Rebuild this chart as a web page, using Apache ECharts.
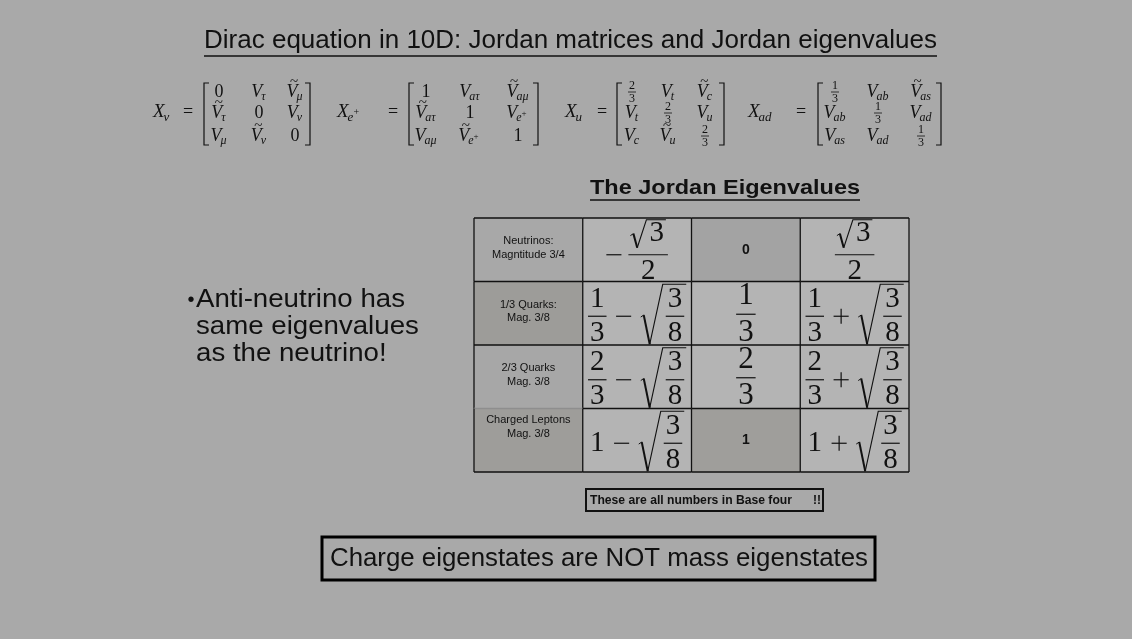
<!DOCTYPE html>
<html lang="en">
<head>
<meta charset="UTF-8">
<title>Jordan eigenvalues</title>
<script src="https://cdn.jsdelivr.net/npm/echarts@6.0.0/dist/echarts.min.js"></script>
<style>html,body{margin:0;padding:0;background:#a9a9a9}</style>
</head>
<body>
<div id="main" style="width:1132px;height:639px"></div>
<script>
// table contents
const rowNames = ['Neutrinos:\nMagntitude 3/4', '1/3 Quarks:\nMag. 3/8', '2/3 Quarks\nMag. 3/8', 'Charged Leptons\nMag. 3/8']
const colNames = ['type', 'low', 'mid', 'high']
const eigLow = ['-√3/2', '1/3-√(3/8)', '2/3-√(3/8)', '1-√(3/8)']
const eigMid = ['0', '1/3', '2/3', '1']
const eigHigh = ['√3/2', '1/3+√(3/8)', '2/3+√(3/8)', '1+√(3/8)']

// Jordan matrices, row by row
const matNames = [['X', 'ν'], ['X', 'e+'], ['X', 'u'], ['X', 'ad']]
const matNu = ['0', 'V_τ', '~V_μ', '~V_τ', '0', 'V_ν', 'V_μ', '~V_ν', '0']
const matE = ['1', 'V_aτ', '~V_aμ', '~V_aτ', '1', 'V_e+', 'V_aμ', '~V_e+', '1']
const matU = ['2/3', 'V_t', '~V_c', 'V_t', '2/3', 'V_u', 'V_c', '~V_u', '2/3']
const matAd = ['1/3', 'V_ab', '~V_as', 'V_ab', '1/3', 'V_ad', 'V_as', 'V_ad', '1/3']

const titleText = 'Dirac equation in 10D: Jordan matrices and Jordan eigenvalues'
const subTitle = 'The Jordan Eigenvalues'
const bullet = ['Anti-neutrino has', 'same eigenvalues', 'as the neutrino!']
const noteText = 'These are all numbers in Base four'
const boxText = 'Charge eigenstates are NOT mass eigenstates'

// styles
const SERIF = '"Liberation Serif", "DejaVu Serif", serif'
const SANS = '"Liberation Sans", Arial, sans-serif'
const INK = '#111'
const labelFill = ['#a8a8a8', '#9d9c99', '#a7a7a7', '#9e9d9a']
const midFill = ['#a3a3a3', '#b4b4b4', '#b4b4b4', '#9f9e9b']
const valueFill = '#b4b4b4'
const matLayout = [
    {lx: 153, eq: 188, l: 204, r: 310, cols: [219, 259, 295]},
    {lx: 337, eq: 393, l: 409, r: 538, cols: [426, 470, 518]},
    {lx: 565, eq: 602, l: 617, r: 724, cols: [632, 668, 705]},
    {lx: 748, eq: 801, l: 818, r: 941, cols: [835, 878, 921]}
]
const matRowY = [92, 113, 136]

const ctx = document.createElement('canvas').getContext('2d')
function tw(s, font) {
    ctx.font = font
    return ctx.measureText(s).width
}
function T(x, y, s, font, align) {
    align = align || 'center'
    return {type: 'text', x: x, y: y, silent: true,
        style: {text: s, font: font, fill: INK, align: align, textAlign: align, verticalAlign: 'middle', textVerticalAlign: 'middle'}}
}
function L(x1, y1, x2, y2, w, color) {
    return {type: 'line', silent: true, shape: {x1: x1, y1: y1, x2: x2, y2: y2}, style: {stroke: color || INK, lineWidth: w || 1.2}}
}
function P(pts, w) {
    return {type: 'polyline', silent: true, shape: {points: pts}, style: {stroke: INK, lineWidth: w, fill: null}}
}
function fit(x, y, s, font, width, align) {
    const el = T(x, y, s, font, align)
    el.scaleX = width / tw(s, font)
    return el
}

// --- little formula layout: boxes with width and extent above/below the axis
function numBox(s, F) {
    const font = F + 'px ' + SERIF
    const w = tw(s, font), h = 0.345 * F
    return {w: w, up: h, dn: h, draw: function (x, y, out) { out.push(T(x + w / 2, y, s, font)) }}
}
function fracBox(n, d, F) {
    const g = 0.24 * F, pad = 2
    const w = Math.max(n.w, d.w) + 2 * pad
    return {frac: true, w: w, up: g + n.up + n.dn, dn: g + d.up + d.dn, draw: function (x, y, out) {
        out.push(L(x, y, x + w, y, 1.2))
        n.draw(x + (w - n.w) / 2, y - g - n.dn, out)
        d.draw(x + (w - d.w) / 2, y + g + d.up, out)
    }}
}
function radBox(inner) {
    const gapTop = inner.frac ? 5 : 4, ext = inner.frac ? 1 : 4
    const p = Math.round(16 + 0.17 * (inner.up + inner.dn))
    const up = inner.up + gapTop, dn = inner.dn + ext
    return {w: p + inner.w + 2, up: up, dn: dn, draw: function (x, y, out) {
        const top = y - up, bot = y + dn, yT = bot - 0.47 * (bot - top)
        const cx = x + p * 0.36
        out.push(P([[x, yT + 1], [x + 3, yT - 1]], 1))
        out.push(L(x + 3, yT - 1, cx, bot, 2))
        out.push(P([[cx, bot], [x + p - 3, top], [x + p + inner.w + 2, top]], 1.1))
        inner.draw(x + p, y, out)
    }}
}
function opBox(s, F, first) {
    const sl = first ? 0 : 0.33 * F, sr = first ? 0.24 * F : 0.33 * F, ow = 0.52 * F
    return {w: sl + ow + sr, up: ow / 2, dn: ow / 2, draw: function (x, y, out) {
        const a = x + sl
        out.push(L(a, y, a + ow, y, 1.2))
        if (s === '+') out.push(L(a + ow / 2, y - ow / 2, a + ow / 2, y + ow / 2, 1.2))
    }}
}
function parseExpr(s, F) {
    const toks = s.match(/√\(\d\/\d\)|√?\d\/\d|\d|[-+]/g)
    return toks.map(function (t, i) {
        if (t === '-' || t === '+') return opBox(t, F, i === 0)
        if (t[0] === '√' && t[1] === '(') return radBox(fracBox(numBox(t[2], F), numBox(t[4], F), F))
        if (t.indexOf('/') > 0) {
            const parts = t.split('/')
            const n = parts[0][0] === '√' ? radBox(numBox(parts[0].slice(1), F)) : numBox(parts[0], F)
            return fracBox(n, numBox(parts[1], F), F)
        }
        return numBox(t, F)
    })
}
function drawExpr(s, cx, cy, F, out) {
    const boxes = parseExpr(s, F)
    let W = 0, up = 0, dn = 0
    boxes.forEach(function (b) { W += b.w; up = Math.max(up, b.up); dn = Math.max(dn, b.dn) })
    const y = cy - (dn - up) / 2 + 1
    let x = cx - W / 2
    boxes.forEach(function (b) { b.draw(x, y, out); x += b.w })
}

// --- table through category axes
const cells = []
rowNames.forEach(function (n, r) {
    colNames.forEach(function (cn, c) { cells.push([c, r]) })
})
function cellBox(api) {
    const c = api.value(0), r = api.value(1)
    const p = api.coord([c, r]), s = api.size([1, 1])
    return {c: c, r: r, cx: p[0], cy: p[1], x: p[0] - s[0] / 2, y: p[1] - s[1] / 2, w: s[0], h: s[1]}
}
function renderCell(params, api) {
    const b = cellBox(api)
    const fill = b.c === 0 ? labelFill[b.r] : b.c === 2 ? midFill[b.r] : valueFill
    const kids = [{type: 'rect', shape: {x: b.x, y: b.y, width: b.w, height: b.h}, style: {fill: fill}}]
    kids.push(L(b.x, b.y, b.x + b.w, b.y, 1.3, b.c === 0 && b.r === 3 ? '#8e8e8e' : INK))
    kids.push(L(b.x, b.y, b.x, b.y + b.h, 1.3))
    if (b.c === 3) kids.push(L(b.x + b.w, b.y, b.x + b.w, b.y + b.h, 1.3))
    if (b.r === 3) kids.push(L(b.x, b.y + b.h, b.x + b.w, b.y + b.h, 1.3))
    return {type: 'group', children: kids}
}
function renderText(params, api) {
    const b = cellBox(api)
    const kids = []
    if (b.c === 0) {
        const top = b.r === 3
        kids.push({type: 'text', x: b.cx, y: top ? b.y + 5 : b.cy - 2, silent: true,
            style: {text: rowNames[b.r], font: '11px ' + SANS, fill: INK, lineHeight: 13.5,
                align: 'center', textAlign: 'center', verticalAlign: top ? 'top' : 'middle', textVerticalAlign: top ? 'top' : 'middle'}})
    } else {
        const s = [null, eigLow, eigMid, eigHigh][b.c][b.r]
        if (/^\d$/.test(s)) kids.push(T(b.cx, b.cy, s, 'bold 14px ' + SANS))
        else drawExpr(s, b.cx, b.cy, b.c === 2 ? 31 : 29, kids)
    }
    return {type: 'group', children: kids}
}

// --- slide decorations
const deco = []
deco.push(fit(570.5, 41, titleText, '26px ' + SANS, 733))
deco.push(L(204, 56, 937, 56, 1.3))
deco.push(fit(725, 188, subTitle, 'bold 21px ' + SANS, 270))
deco.push(L(590, 200, 860, 200, 1.3))

deco.push(T(191, 300, '•', '20px ' + SANS))
const bulletFont = '26px ' + SANS
const bulletScale = 209 / tw(bullet[0], bulletFont)
bullet.forEach(function (s, i) {
    const el = T(196, 300 + i * 27, s, bulletFont, 'left')
    el.scaleX = bulletScale
    deco.push(el)
})

deco.push({type: 'rect', silent: true, shape: {x: 586, y: 489, width: 237, height: 22}, style: {fill: null, stroke: INK, lineWidth: 2}})
deco.push(fit(590, 501, noteText, 'bold 12px ' + SANS, 202, 'left'))
deco.push(T(813, 501, '!!', 'bold 12px ' + SANS, 'left'))

deco.push({type: 'rect', silent: true, shape: {x: 322, y: 537, width: 553, height: 43}, style: {fill: null, stroke: '#000', lineWidth: 3}})
deco.push(fit(599, 559, boxText, '26px ' + SANS, 538))

function subText(x, y, sub, size) {
    const f = 'italic ' + size + 'px ' + SERIF
    if (sub.slice(-1) === '+') {
        const w = tw(sub.slice(0, -1), f)
        deco.push(T(x, y, sub.slice(0, -1), f, 'left'))
        deco.push(T(x + w, y - size * 0.4, '+', Math.round(size * 0.75) + 'px ' + SERIF, 'left'))
        return w + size * 0.6
    }
    deco.push(T(x, y, sub, f, 'left'))
    return tw(sub, f)
}
function subWidth(sub, size) {
    const f = 'italic ' + size + 'px ' + SERIF
    if (sub.slice(-1) === '+') return tw(sub.slice(0, -1), f) + size * 0.6
    return tw(sub, f)
}
function entry(s, cx, cy) {
    if (s.indexOf('/') > 0) {
        const f = '12px ' + SERIF
        deco.push(T(cx, cy - 6, s[0], f))
        deco.push(L(cx - 4, cy, cx + 4, cy, 0.8))
        deco.push(T(cx, cy + 6.5, s[2], f))
        return
    }
    if (/^\d$/.test(s)) {
        deco.push(T(cx, cy, s, '18px ' + SERIF))
        return
    }
    const tilde = s[0] === '~'
    const parts = (tilde ? s.slice(1) : s).split('_')
    const bf = 'italic 18px ' + SERIF
    const wb = tw(parts[0], bf), ws = subWidth(parts[1], 12)
    const left = cx - (wb + ws) / 2
    deco.push(T(left, cy, parts[0], bf, 'left'))
    subText(left + wb - 1, cy + 5, parts[1], 12)
    if (tilde) deco.push(T(left + wb / 2 + 2, cy - 10, '~', '15px ' + SERIF))
}

;[matNu, matE, matU, matAd].forEach(function (m, k) {
    const lay = matLayout[k]
    const xf = 'italic 19px ' + SERIF
    deco.push(T(lay.lx, 112, matNames[k][0], xf, 'left'))
    subText(lay.lx + tw(matNames[k][0], xf) - 1, 118, matNames[k][1], 13)
    deco.push(T(lay.eq, 112, '=', '18px ' + SERIF))
    deco.push(P([[lay.l + 5, 83], [lay.l, 83], [lay.l, 145], [lay.l + 5, 145]], 1.2))
    deco.push(P([[lay.r - 5, 83], [lay.r, 83], [lay.r, 145], [lay.r - 5, 145]], 1.2))
    m.forEach(function (s, i) {
        entry(s, lay.cols[i % 3], matRowY[Math.floor(i / 3)])
    })
})

let chart = echarts.init(document.getElementById('main'))
chart.setOption({
    backgroundColor: '#a9a9a9',
    animation: false,
    grid: {left: 474, top: 218, width: 435, height: 254},
    xAxis: {type: 'category', data: colNames, show: false},
    yAxis: {type: 'category', data: rowNames, inverse: true, show: false},
    series: [
        {type: 'custom', renderItem: renderCell, data: cells, silent: true, z: 2},
        {type: 'custom', renderItem: renderText, data: cells, silent: true, z: 3}
    ],
    graphic: {elements: deco}
})
</script>
</body>
</html>
